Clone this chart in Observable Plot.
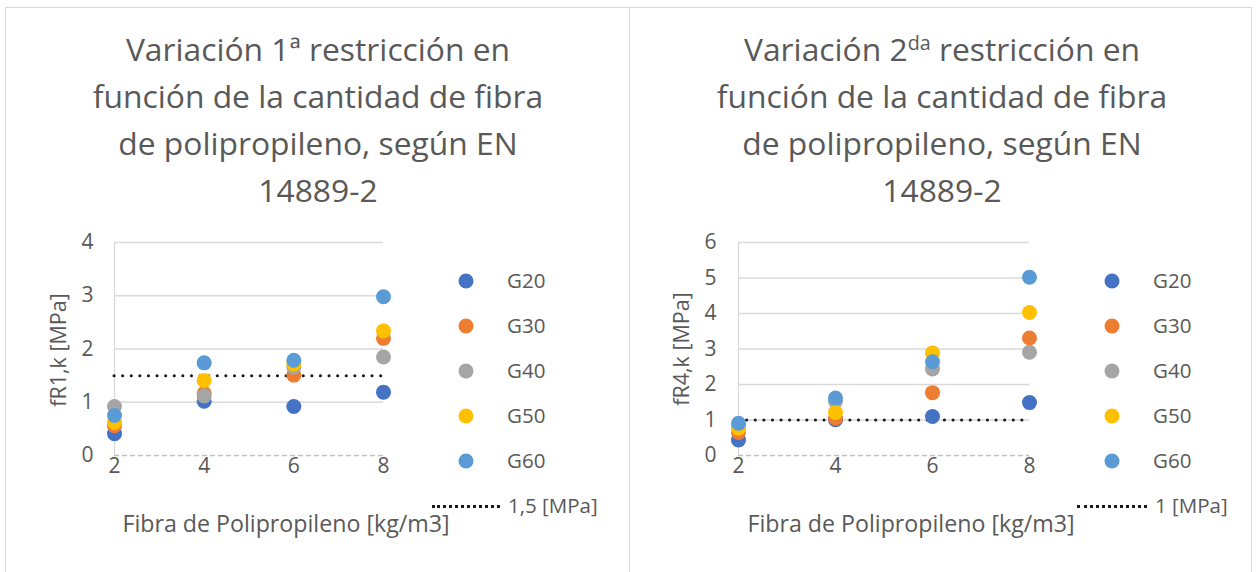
<!DOCTYPE html>
<html><head><meta charset="utf-8">
<script src="https://cdn.jsdelivr.net/npm/d3@7"></script>
<script src="https://cdn.jsdelivr.net/npm/@observablehq/plot@0.6"></script>
<style>
body{margin:0;background:#fff;font-family:"Open Sans",sans-serif;color:#595959;}
#root{position:relative;width:1258px;height:572px;overflow:hidden;background:#fff}
.panel{position:absolute;top:7px;height:600px;border:1px solid #d9d9d9;box-sizing:border-box;}
.title{position:absolute;text-align:center;font-size:31.8px;line-height:47px;color:#595959;white-space:nowrap;transform:translateX(-50%)}
.title sup{font-size:0.62em;vertical-align:0.55em;line-height:0}
.xlab{position:absolute;font-size:23.2px;white-space:nowrap;transform:translateX(-50%);line-height:26px}
.ylab{position:absolute;font-size:21.5px;white-space:nowrap;transform:translate(-50%,-50%) rotate(-90deg);line-height:26px}
.leg{position:absolute;font-size:20.5px;line-height:24px;white-space:nowrap}
.sw{position:absolute;width:15px;height:15px;border-radius:50%;transform:translate(-50%,-50%)}
.dotline{position:absolute;border-top:3px dotted #1a1a1a;height:0}
.plot{position:absolute}
.plot svg text{font-size:21px;font-family:"Open Sans",sans-serif}
</style>
</head><body>
<div id="root">
  <div class="panel" style="left:5px;width:625px"></div>
  <div class="panel" style="left:629px;width:623px"></div>
  <div class="title" style="left:318px;top:25px">Variación 1ª restricción en<br>función de la cantidad de fibra<br>de polipropileno, según EN<br>14889-2</div>
  <div class="title" style="left:942px;top:25px">Variación 2<sup>da</sup> restricción en<br>función de la cantidad de fibra<br>de polipropileno, según EN<br>14889-2</div>
  <div id="p1" class="plot" style="left:0px;top:220px"></div>
  <div id="p2" class="plot" style="left:620px;top:220px"></div>
  <div class="xlab" style="left:286px;top:510px">Fibra de Polipropileno [kg/m3]</div>
  <div class="xlab" style="left:911px;top:510px">Fibra de Polipropileno [kg/m3]</div>
  <div class="ylab" style="left:58px;top:350px">fR1,k [MPa]</div>
  <div class="ylab" style="left:681px;top:349px">fR4,k [MPa]</div>
  <div id="leg1"></div>
  <div id="leg2"></div>
</div>
<script>
// ---- data ----
const fibra = [2, 4, 6, 8];
const series = ["G20", "G30", "G40", "G50", "G60"];
const colors = ["#4472C4", "#ED7D31", "#A5A5A5", "#FFC000", "#5B9BD5"];

// Chart 1: fR1,k [MPa]
const fR1_G20 = [0.41, 1.02, 0.92, 1.19];
const fR1_G30 = [0.56, 1.17, 1.51, 2.20];
const fR1_G40 = [0.92, 1.12, 1.66, 1.85];
const fR1_G50 = [0.62, 1.41, 1.72, 2.34];
const fR1_G60 = [0.75, 1.74, 1.79, 2.98];
const limit1 = 1.5;
const limit1Label = "1,5 [MPa]";
const yTicks1 = [0, 1, 2, 3, 4];

// Chart 2: fR4,k [MPa]
const fR4_G20 = [0.44, 1.01, 1.10, 1.49];
const fR4_G30 = [0.65, 1.05, 1.77, 3.31];
const fR4_G40 = [0.80, 1.53, 2.44, 2.91];
const fR4_G50 = [0.77, 1.21, 2.89, 4.03];
const fR4_G60 = [0.91, 1.62, 2.64, 5.02];
const limit2 = 1;
const limit2Label = "1 [MPa]";
const yTicks2 = [0, 1, 2, 3, 4, 5, 6];

function rows(arrs) {
  const out = [];
  arrs.forEach((arr, i) => arr.forEach((v, j) => out.push({serie: series[i], fibra: fibra[j], value: v})));
  return out;
}
const data1 = rows([fR1_G20, fR1_G30, fR1_G40, fR1_G50, fR1_G60]);
const data2 = rows([fR4_G20, fR4_G30, fR4_G40, fR4_G50, fR4_G60]);

function chart(data, yTicks, limit, o) {
  const ymax = yTicks[yTicks.length - 1];
  const fmt = d => String(d);
  return Plot.plot({
    width: o.width, height: o.height,
    marginLeft: o.ml, marginRight: o.mr, marginTop: o.mt, marginBottom: o.mb,
    style: {fontFamily: "'Open Sans', sans-serif", fontSize: "21px", color: "#595959", background: "transparent", overflow: "visible"},
    x: {domain: [2, 8], label: null},
    y: {domain: [0, ymax], label: null},
    color: {domain: series, range: colors},
    marks: [
      Plot.gridY(yTicks.filter(t => t > 0), {stroke: "#d9d9d9", strokeOpacity: 1, strokeWidth: 1.3}),
      Plot.ruleX([2], {stroke: "#d9d9d9", strokeWidth: 1.3}),
      Plot.ruleY([0], {stroke: "#bfbfbf", strokeWidth: 1.3, strokeDasharray: "5,3"}),
      Plot.ruleY([limit], {stroke: "#1a1a1a", strokeWidth: 3, strokeDasharray: "0.1,8.5", strokeLinecap: "round"}),
      Plot.dot(data, {x: "fibra", y: "value", fill: "serie", r: 7.5}),
      Plot.axisX(fibra, {tickSize: 0, tickPadding: 3, tickFormat: fmt, fill: "#595959", fontSize: 21, label: null}),
      Plot.axisY(yTicks, {tickSize: 0, tickPadding: o.tp, tickFormat: fmt, fill: "#595959", fontSize: 21, label: null})
    ]
  });
}

document.getElementById("p1").appendChild(chart(data1, yTicks1, limit1, {width: 420, height: 300, ml: 114, mr: 37, mt: 22, mb: 65, tp: 21}));
document.getElementById("p2").appendChild(chart(data2, yTicks2, limit2, {width: 430, height: 300, ml: 118, mr: 21, mt: 22, mb: 65, tp: 22}));

function legend(id, cx, tx, dx1, dx2, limLabel) {
  const el = document.getElementById(id);
  const rowsY = [281, 326, 371, 416, 461];
  series.forEach((s, i) => {
    const sw = document.createElement("div");
    sw.className = "sw";
    sw.style.left = cx + "px"; sw.style.top = rowsY[i] + "px"; sw.style.background = colors[i];
    el.appendChild(sw);
    const t = document.createElement("div");
    t.className = "leg"; t.textContent = s;
    t.style.left = tx + "px"; t.style.top = (rowsY[i] - 13) + "px";
    el.appendChild(t);
  });
  const dl = document.createElement("div");
  dl.className = "dotline";
  dl.style.left = dx1 + "px"; dl.style.width = (dx2 - dx1) + "px"; dl.style.top = "505px";
  el.appendChild(dl);
  const t = document.createElement("div");
  t.className = "leg"; t.textContent = limLabel;
  t.style.left = (dx2 + 8) + "px"; t.style.top = "493px";
  el.appendChild(t);
}
legend("leg1", 466, 507, 432, 500, limit1Label);
legend("leg2", 1112, 1153, 1077, 1147, limit2Label);
</script>
</body></html>
